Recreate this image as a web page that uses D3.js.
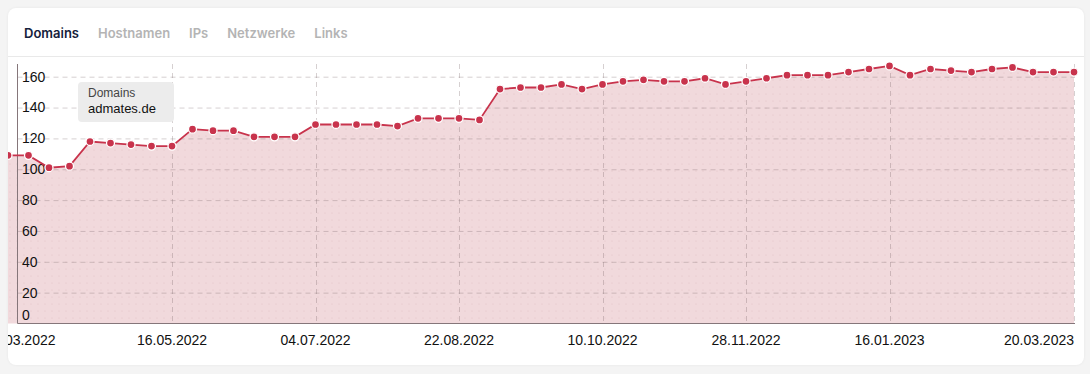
<!DOCTYPE html>
<html>
<head>
<meta charset="utf-8">
<script src="https://cdn.jsdelivr.net/npm/d3@7"></script>
<style>
  body { margin: 0; background: #f4f4f4; width: 1090px; height: 374px; overflow: hidden; }
  .card {
    position: absolute; left: 8px; top: 8px; width: 1076px; height: 357px;
    background: #fff; border-radius: 8px; overflow: hidden;
    box-shadow: 0 0 3px rgba(0,0,0,0.06);
  }
  .tabs { position: absolute; left: 16px; top: 17px; font-family: Inter, Roboto, sans-serif;
    font-size: 13px; font-weight: 600; }
  .tabs span { margin-right: 19px; color: #b4b4b4; }
  .tabs span.active { color: #15213b; }
  .sep { position: absolute; left: 0; right: 0; top: 48px; height: 1px; background: #e9e9e9; }
  svg { position: absolute; left: 0; top: 0; }
</style>
</head>
<body>
<div class="card">
  <div class="tabs"></div>
  <div class="sep"></div>
  <svg class="chart" width="1076" height="357"></svg>
</div>
<script>
var tabNames = ["Domains", "Hostnamen", "IPs", "Netzwerke", "Links"];
var seriesName = "Domains";
var siteName = "admates.de";
var firstWeek = "2022-03-21";
var domainCounts = [109, 109, 101, 102, 118, 117, 116, 115, 115, 126,
                    125, 125, 121, 121, 121, 129, 129, 129, 129, 128,
                    133, 133, 133, 132, 152, 153, 153, 155, 152, 155,
                    157, 158, 157, 157, 159, 155, 157, 159, 161, 161,
                    161, 163, 165, 167, 161, 165, 164, 163, 165, 166,
                    163, 163, 163];
var xTickLabels = ["28.03.2022", "16.05.2022", "04.07.2022", "22.08.2022",
                   "10.10.2022", "28.11.2022", "16.01.2023", "20.03.2023"];
var yTicks = [0, 20, 40, 60, 80, 100, 120, 140, 160];

d3.select(".tabs").selectAll("span")
  .data(tabNames)
  .enter().append("span")
    .attr("class", (d, i) => i === 0 ? "active" : null)
    .text((d) => d);

var parseIso = d3.timeParse("%Y-%m-%d");
var parseDe = d3.timeParse("%d.%m.%Y");
var start = parseIso(firstWeek);
var data = domainCounts.map((v, i) => ({ date: d3.timeWeek.offset(start, i), value: v }));
var tickDates = xTickLabels.map(parseDe);

var svg = d3.select(".chart");
var axisX = 9.5, plotTop = 56, plotBottom = 315.5;

var x = d3.scaleTime()
  .domain([data[0].date, data[data.length - 1].date])
  .range([0, 1066]);
var y = d3.scaleLinear().domain([0, 160]).range([plotBottom, 68.7]);

var defs = svg.append("defs");
var pat = defs.append("pattern")
  .attr("id", "dots").attr("width", 7).attr("height", 7)
  .attr("patternUnits", "userSpaceOnUse");
pat.append("rect").attr("width", 7).attr("height", 7).attr("fill", "#f1d9dc");
pat.append("circle").attr("cx", 2).attr("cy", 2).attr("r", 0.6).attr("fill", "#e4c2c7");

var area = d3.area()
  .x((d) => x(d.date))
  .y0(plotBottom)
  .y1((d) => y(d.value));
var line = d3.line()
  .x((d) => x(d.date))
  .y((d) => y(d.value));

svg.append("path")
  .datum(data)
  .attr("d", area)
  .attr("fill", "url(#dots)");

// grid
svg.append("g").selectAll("line")
  .data(yTicks.slice(1))
  .enter().append("line")
    .attr("x1", axisX).attr("x2", x.range()[1])
    .attr("y1", (d) => y(d) + 0.5).attr("y2", (d) => y(d) + 0.5)
    .attr("stroke", "rgba(120,100,104,0.3)")
    .attr("stroke-dasharray", "5,4");

svg.append("g").selectAll("line")
  .data(tickDates.slice(1))
  .enter().append("line")
    .attr("x1", (d) => Math.round(x(d)) + 0.5).attr("x2", (d) => Math.round(x(d)) + 0.5)
    .attr("y1", plotTop).attr("y2", plotBottom)
    .attr("stroke", "rgba(120,100,104,0.3)")
    .attr("stroke-dasharray", "5,4");

// axes
svg.append("line")
  .attr("x1", axisX).attr("x2", axisX).attr("y1", plotTop).attr("y2", plotBottom)
  .attr("stroke", "#85767a");
svg.append("line")
  .attr("x1", axisX).attr("x2", x.range()[1] + 1).attr("y1", plotBottom).attr("y2", plotBottom)
  .attr("stroke", "#85767a");

svg.append("g").selectAll("text")
  .data(yTicks)
  .enter().append("text")
    .attr("x", 14)
    .attr("y", (d) => Math.min(y(d), plotBottom - 8))
    .attr("dy", "0.35em")
    .style("font", "14px 'Liberation Sans', Arial, sans-serif")
    .attr("fill", "#111")
    .text((d) => d);

var last = tickDates.length - 1;
svg.append("g").selectAll("text")
  .data(tickDates)
  .enter().append("text")
    .attr("x", (d, i) => i === 0 ? x(d) + 27 : x(d))
    .attr("y", 337)
    .attr("text-anchor", (d, i) => (i === last || i === 0) ? "end" : "middle")
    .style("font", "14px 'Liberation Sans', Arial, sans-serif")
    .attr("fill", "#111")
    .text((d, i) => xTickLabels[i]);

// series
svg.append("path")
  .datum(data)
  .attr("d", line)
  .attr("fill", "none")
  .attr("stroke", "#c8334c")
  .attr("stroke-width", 1.8);

svg.append("g").selectAll("circle")
  .data(data)
  .enter().append("circle")
    .attr("cx", (d) => x(d.date))
    .attr("cy", (d) => y(d.value))
    .attr("r", 4)
    .attr("fill", "#c8334c")
    .attr("stroke", "#fff")
    .attr("stroke-width", 1.3);

// label box
var box = svg.append("g").attr("transform", "translate(70,74)");
box.append("rect")
  .attr("width", 96).attr("height", 40).attr("rx", 4)
  .attr("fill", "#ececec");
box.append("text")
  .attr("x", 10).attr("y", 15)
  .style("font", "12px 'Liberation Sans', Arial, sans-serif")
  .attr("fill", "#444")
  .text(seriesName);
box.append("text")
  .attr("x", 10).attr("y", 31)
  .style("font", "13px 'Liberation Sans', Arial, sans-serif")
  .attr("fill", "#111")
  .text(siteName);
</script>
</body>
</html>
